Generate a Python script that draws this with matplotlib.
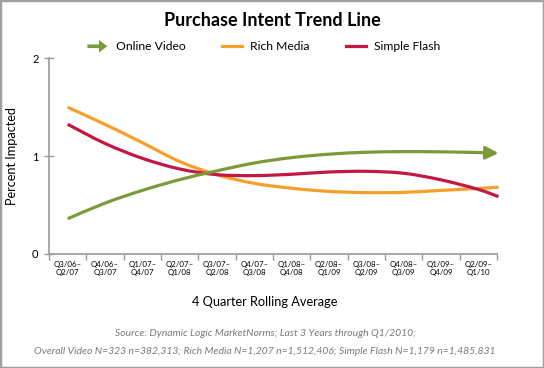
import matplotlib
matplotlib.use("Agg")
import matplotlib.pyplot as plt
import matplotlib.patches as mpatches
from matplotlib.lines import Line2D
from matplotlib.path import Path
from matplotlib.legend_handler import HandlerPatch

plt.rcParams['font.family'] = ['Lato', 'DejaVu Sans']

categories = ["Q3/06–\nQ2/07", "Q4/06–\nQ3/07", "Q1/07–\nQ4/07", "Q2/07–\nQ1/08",
              "Q3/07–\nQ2/08", "Q4/07–\nQ3/08", "Q1/08–\nQ4/08", "Q2/08–\nQ1/09",
              "Q3/08–\nQ2/09", "Q4/08–\nQ3/09", "Q1/09–\nQ4/09", "Q2/09–\nQ1/10"]
# positions along the trend line (category index units), last point = line end
trend_x = [0, 1, 2, 3, 4, 5, 6, 7, 8, 9, 10, 11, 11.54]
online_video = [0.36, 0.52, 0.65, 0.76, 0.85, 0.93, 0.985, 1.02, 1.04, 1.046, 1.044, 1.037, 1.03]
rich_media = [1.50, 1.325, 1.138, 0.945, 0.81, 0.722, 0.672, 0.64, 0.627, 0.63, 0.65, 0.67, 0.682]
simple_flash = [1.326, 1.13, 0.978, 0.869, 0.811, 0.801, 0.815, 0.838, 0.845, 0.825, 0.758, 0.66, 0.586]

GREEN = "#7B9B3A"
ORANGE = "#F6A02B"
RED = "#C31843"
AX = "#9A9A9A"


def smooth_path(xs, ys):
    """Catmull-Rom style smooth curve through the given points (as bezier path)."""
    n = len(xs)
    verts = [(xs[0], ys[0])]
    codes = [Path.MOVETO]
    for i in range(n - 1):
        x0, y0 = (xs[i - 1], ys[i - 1]) if i > 0 else (xs[i], ys[i])
        x1, y1 = xs[i], ys[i]
        x2, y2 = xs[i + 1], ys[i + 1]
        x3, y3 = (xs[i + 2], ys[i + 2]) if i + 2 < n else (xs[i + 1], ys[i + 1])
        c1 = (x1 + (x2 - x0) / 6.0, y1 + (y2 - y0) / 6.0)
        c2 = (x2 - (x3 - x1) / 6.0, y2 - (y3 - y1) / 6.0)
        verts += [c1, c2, (x2, y2)]
        codes += [Path.CURVE4] * 3
    return Path(verts, codes)


fig = plt.figure(figsize=(5.44, 3.68), dpi=100)
ax = fig.add_axes([49/544, 1-254/368, 448/544, (254-58.3)/368])

lw = 2.3
for ys, col in [(rich_media, ORANGE), (simple_flash, RED)]:
    ax.add_patch(mpatches.PathPatch(smooth_path(trend_x, ys), facecolor='none',
                                    edgecolor=col, lw=lw, capstyle='butt', clip_on=False))
ax.add_patch(mpatches.PathPatch(smooth_path(trend_x[:-1], online_video[:-1]), facecolor='none',
                                edgecolor=GREEN, lw=lw, capstyle='butt', clip_on=False))
ax.annotate('', xy=(trend_x[-1], online_video[-1]), xytext=(trend_x[-2], online_video[-2]),
            annotation_clip=False,
            arrowprops=dict(arrowstyle='-|>,head_length=0.75,head_width=0.38',
                            color=GREEN, lw=lw, shrinkA=0, shrinkB=0))

ax.set_xlim(-0.5, 11.5)
ax.set_ylim(0, 2)
ax.set_yticks([0, 1, 2])
ax.set_yticklabels(["0", "1", "2"], fontsize=8)
ax.set_xticks(range(len(categories)))
ax.set_xticklabels(categories, fontsize=5.7, linespacing=1.1)
ax.set_xticks([i - 0.5 for i in range(len(categories) + 1)], minor=True)
ax.tick_params(axis='x', which='major', length=0, pad=5)
ax.tick_params(axis='x', which='minor', length=4, color=AX, width=1, direction='out')
ax.tick_params(axis='y', which='major', length=7, color=AX, width=1, direction='inout', pad=4)
for s in ['top', 'right']:
    ax.spines[s].set_visible(False)
for s in ['left', 'bottom']:
    ax.spines[s].set_color(AX)
    ax.spines[s].set_linewidth(1.2)
ax.set_ylabel("Percent Impacted", fontsize=9.2)
ax.yaxis.set_label_coords((18 - 49) / 448, 0.5)

fig.text(0.5, 1-21/368, "Purchase Intent Trend Line", ha='center', va='center',
         fontsize=13, fontweight='bold')
fig.text(265/544, 1-302/368, "4 Quarter Rolling Average", ha='center', va='center', fontsize=9.2)
fig.text(265/544, 1-333/368, "Source: Dynamic Logic MarketNorms; Last 3 Years through Q1/2010;",
         ha='center', va='center', fontsize=7.5, style='italic', color='#7A7A7A')
fig.text(265/544, 1-352/368, "Overall Video N=323 n=382,313; Rich Media N=1,207 n=1,512,406; Simple Flash N=1,179 n=1,485,831",
         ha='center', va='center', fontsize=7.5, style='italic', color='#7A7A7A')


class HandlerArrow(HandlerPatch):
    def create_artists(self, legend, orig_handle, xdescent, ydescent, width, height, fontsize, trans):
        p = mpatches.FancyArrow(-xdescent, 0.5 * height - ydescent, width, 0,
                                width=2.6, head_width=9, head_length=6,
                                length_includes_head=True)
        p.set_facecolor(GREEN)
        p.set_edgecolor('none')
        p.set_transform(trans)
        return [p]


handles = [mpatches.FancyArrow(0, 0, 1, 0, color=GREEN),
           Line2D([], [], color=ORANGE, lw=lw),
           Line2D([], [], color=RED, lw=lw)]
labels = ["Online Video", "Rich Media", "Simple Flash"]
fig.legend(handles, labels, loc='center', bbox_to_anchor=(264/544, 1-47/368), ncol=3,
           frameon=False, fontsize=8.7, handlelength=1.65, handletextpad=0.7,
           columnspacing=3.0, handler_map={mpatches.FancyArrow: HandlerArrow()})

fig.add_artist(mpatches.Rectangle((0, 0), 1, 1, transform=fig.transFigure, fill=False,
                                  edgecolor='#A0A0A0', lw=2.5))

fig.savefig("out.png", dpi=100)
